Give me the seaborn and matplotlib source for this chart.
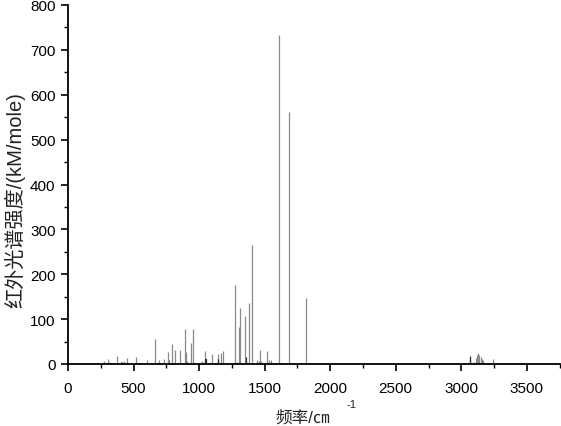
import matplotlib
matplotlib.use("Agg")
import matplotlib.pyplot as plt
import numpy as np
import pandas as pd
import seaborn as sns
from matplotlib.ticker import MultipleLocator

# ---- data (frequency in cm-1, IR intensity in kM/mole) ----
freq_gray = [63, 173, 275, 308, 320, 376, 409, 430, 452, 516, 531, 605, 661, 694,
             735, 760, 766, 796, 819, 854, 892, 898, 905, 938, 953, 999, 1025,
             1045, 1101, 1147, 1170, 1185, 1274, 1287, 1305, 1312, 1348, 1381,
             1401, 1439, 1457, 1467, 1475, 1520, 1533, 1546, 1609, 1683, 1818,
             3099, 3110, 3120, 3130, 3138, 3148, 3156, 3168, 3242]
inten_gray = [2, 2, 7, 12, 4, 18, 5, 7, 13, 15, 3, 8, 56, 8,
              11, 26, 8, 44, 32, 31, 77, 26, 7, 47, 79, 3, 6,
              29, 22, 22, 24, 29, 177, 4, 82, 125, 107, 135,
              265, 9, 6, 31, 7, 28, 8, 10, 733, 562, 148,
              5, 14, 19, 24, 19, 16, 12, 8, 12]
freq_dark = [1048, 1144, 1356, 3064, 3069]
inten_dark = [12, 12, 15, 17, 12]

x_ticks = [0, 500, 1000, 1500, 2000, 2500, 3000, 3500]
y_ticks = [0, 100, 200, 300, 400, 500, 600, 700, 800]
y_label = "红外光谱强度/(kM/mole)"
x_label = "频率/㎝"
x_label_sup = "-1"

sns.set_style("ticks")
plt.rcParams["font.family"] = ["Liberation Sans", "Noto Sans CJK SC", "DejaVu Sans"]

df = pd.DataFrame({
    "freq": freq_gray + freq_dark,
    "inten": inten_gray + inten_dark,
    "shade": ["gray"] * len(freq_gray) + ["dark"] * len(freq_dark),
})

fig = plt.figure(figsize=(5.61, 4.27), dpi=100)
ax = fig.add_axes([68 / 561, 1 - 365 / 427, 491.6 / 561, 359 / 427])

sns.barplot(data=df, x="freq", y="inten", hue="shade",
            palette={"gray": "#8a8a8a", "dark": "#2e2e2e"},
            native_scale=True, dodge=False, errorbar=None, saturation=1,
            width=0.6, linewidth=0.9, legend=False, ax=ax)
for p in ax.patches:
    p.set_edgecolor(p.get_facecolor())

ax.set_xlim(0, 3750)
ax.set_ylim(0, 800)
ax.set_xticks(x_ticks)
ax.set_yticks(y_ticks)
ax.set_xticklabels([str(t) for t in x_ticks])
ax.set_yticklabels([str(t) for t in y_ticks])
ax.xaxis.set_minor_locator(MultipleLocator(250))
ax.yaxis.set_minor_locator(MultipleLocator(50))
sns.despine(ax=ax)
for s in ["left", "bottom"]:
    ax.spines[s].set_linewidth(1.3)
    ax.spines[s].set_color("black")

ax.tick_params(which="major", length=5, width=1.2, direction="out", labelsize=11,
               colors="black")
ax.tick_params(axis="x", which="major", pad=7)
ax.tick_params(axis="y", which="major", pad=4)
ax.tick_params(which="minor", length=3, width=1.0, direction="out", colors="black")

ax.set_ylabel(y_label, fontsize=14.5, color="#222222")
ax.yaxis.set_label_coords(-0.086, 0.46)
ax.set_xlabel(x_label, fontsize=12, color="#222222")
ax.xaxis.set_label_coords(0.477, -0.125)
ax.text(0.576, -0.111, x_label_sup, transform=ax.transAxes, fontsize=8,
        ha="center", va="center", color="#222222")

fig.savefig("out.png", dpi=100)
